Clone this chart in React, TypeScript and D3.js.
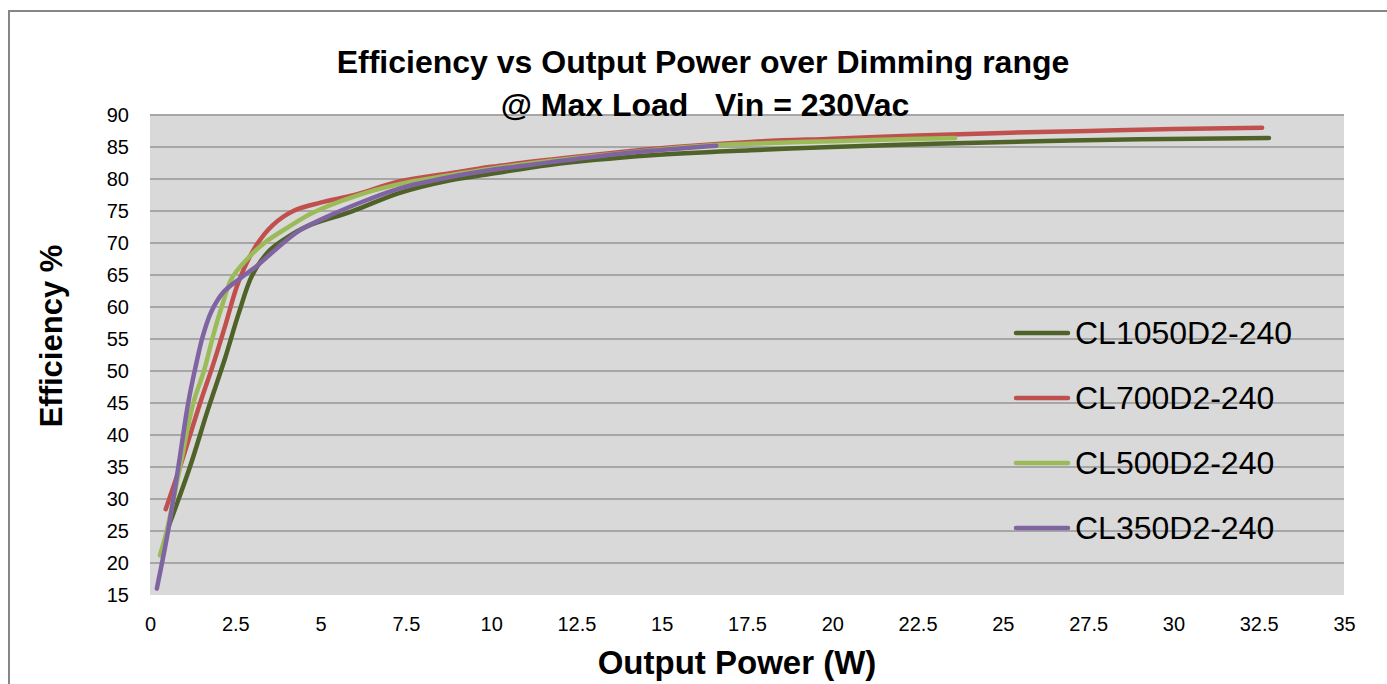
import React, { useEffect, useRef } from 'react';
import * as d3 from 'd3';

const seriesNames = ['CL1050D2-240', 'CL700D2-240', 'CL500D2-240', 'CL350D2-240'];
const seriesColors = ['#4F6228', '#C0504D', '#9BBB59', '#8064A2'];

const cl1050Power = [0.53, 1.17, 1.7, 2.2, 2.6, 3.0, 3.5, 4.0, 4.6, 5.9, 7.3, 8.8, 10, 11.7, 14.7, 17.6, 20, 23, 26, 29, 32.8];
const cl1050Eff = [25.5, 35, 44, 52, 59, 65, 68.8, 70.8, 72.6, 74.9, 77.8, 79.8, 80.8, 82.2, 83.7, 84.5, 85, 85.5, 85.9, 86.2, 86.4];

const cl700Power = [0.46, 0.88, 1.47, 1.85, 2.2, 2.6, 3.1, 3.6, 4.2, 5.0, 6.0, 7.3, 8.8, 10, 11.7, 14.7, 17.6, 20, 22.5, 25, 27.5, 30, 32.6];
const cl700Eff = [28.4, 35, 45, 51, 57, 64, 69.5, 72.8, 75, 76.3, 77.5, 79.6, 80.9, 81.9, 83.0, 84.7, 85.8, 86.3, 86.8, 87.2, 87.5, 87.8, 88.0];

const cl500Power = [0.29, 0.49, 0.88, 1.27, 1.58, 1.85, 2.1, 2.4, 2.85, 3.35, 4.0, 4.8, 6.0, 7.3, 8.8, 10, 11.7, 14.7, 16.6, 18, 20, 22, 23.6];
const cl500Eff = [21.2, 25, 35, 45, 50, 55.5, 60, 64.5, 67.5, 70, 72.3, 74.8, 77.3, 79.2, 80.6, 81.6, 82.8, 84.5, 85.3, 85.6, 85.9, 86.2, 86.4];

const cl350Power = [0.2, 0.53, 0.83, 1.12, 1.35, 1.55, 1.8, 2.15, 2.65, 3.15, 3.75, 4.4, 5.4, 6.4, 7.3, 8.8, 10, 11.7, 13.2, 14.7, 16.6];
const cl350Eff = [16, 25, 35, 45, 51, 55.5, 59.3, 62.3, 64.5, 66.5, 69.3, 72, 74.6, 76.8, 78.5, 80.3, 81.4, 82.6, 83.6, 84.4, 85.2];

const xTicks = [0, 2.5, 5, 7.5, 10, 12.5, 15, 17.5, 20, 22.5, 25, 27.5, 30, 32.5, 35];
const yTicks = [15, 20, 25, 30, 35, 40, 45, 50, 55, 60, 65, 70, 75, 80, 85, 90];

const titleLines = ['Efficiency vs Output Power over Dimming range', '@ Max Load   Vin = 230Vac'];
const xTitle = 'Output Power (W)';
const yTitle = 'Efficiency %';

const App = () => {
  const svgRef = useRef<SVGSVGElement>(null);

  useEffect(() => {
    const W = 1387;
    const H = 684;
    const svg = d3.select(svgRef.current);
    svg.selectAll('*').remove();
    svg.attr('width', W).attr('height', H);

    const font = 'Liberation Sans, Arial, sans-serif';
    const left = 150, right = 1344, top = 115, bottom = 595;

    // outer chart frame
    svg.append('rect')
      .attr('x', 9).attr('y', 11)
      .attr('width', W + 20).attr('height', H + 20)
      .attr('fill', '#fff').attr('stroke', '#868686').attr('stroke-width', 2);

    const x = d3.scaleLinear().domain([0, 35]).range([left, right]);
    const y = d3.scaleLinear().domain([15, 90]).range([bottom, top]);

    svg.append('rect')
      .attr('x', left).attr('y', top)
      .attr('width', right - left).attr('height', bottom - top)
      .attr('fill', '#D9D9D9');

    // gridlines
    svg.append('g')
      .selectAll('line')
      .data(yTicks.filter((t) => t > 15))
      .join('line')
      .attr('x1', left).attr('x2', right)
      .attr('y1', (d) => y(d)).attr('y2', (d) => y(d))
      .attr('stroke', '#A6A6A6').attr('stroke-width', 2.2);

    // y axis labels
    const yAxis = d3.axisLeft(y).tickValues(yTicks).tickSize(0).tickPadding(21);
    const yg = svg.append('g').attr('transform', `translate(${left},0)`).call(yAxis);
    yg.select('.domain').remove();
    yg.selectAll('text').attr('font-family', font).attr('font-size', 20).attr('fill', '#000');

    // x axis labels
    const xAxis = d3.axisBottom(x).tickValues(xTicks).tickSize(0).tickPadding(22)
      .tickFormat((d) => String(d));
    const xg = svg.append('g').attr('transform', `translate(0,${bottom})`).call(xAxis);
    xg.select('.domain').remove();
    xg.selectAll('text').attr('font-family', font).attr('font-size', 20).attr('fill', '#000');

    const series = [
      { name: seriesNames[0], color: seriesColors[0], px: cl1050Power, py: cl1050Eff },
      { name: seriesNames[1], color: seriesColors[1], px: cl700Power, py: cl700Eff },
      { name: seriesNames[2], color: seriesColors[2], px: cl500Power, py: cl500Eff },
      { name: seriesNames[3], color: seriesColors[3], px: cl350Power, py: cl350Eff },
    ];

    const line = d3.line<[number, number]>()
      .x((d) => x(d[0]))
      .y((d) => y(d[1]))
      .curve(d3.curveCatmullRom.alpha(0.5));

    series.forEach((s) => {
      const pts = s.px.map((p, i) => [p, s.py[i]] as [number, number]);
      svg.append('path')
        .attr('d', line(pts))
        .attr('fill', 'none')
        .attr('stroke', s.color)
        .attr('stroke-width', 4.5)
        .attr('stroke-linecap', 'round')
        .attr('stroke-linejoin', 'round');
    });

    // legend
    const lg = svg.append('g');
    series.forEach((s, i) => {
      const cy = 333 + i * 65;
      lg.append('line')
        .attr('x1', 1016).attr('x2', 1068)
        .attr('y1', cy).attr('y2', cy)
        .attr('stroke', s.color).attr('stroke-width', 4.5).attr('stroke-linecap', 'round');
      lg.append('text')
        .attr('x', 1075).attr('y', cy + 11)
        .attr('font-family', font).attr('font-size', 32)
        .attr('fill', '#000')
        .text(s.name);
    });

    // titles
    svg.append('text')
      .attr('x', 703).attr('y', 73)
      .attr('text-anchor', 'middle')
      .attr('font-family', font).attr('font-weight', 'bold').attr('font-size', 32)
      .text(titleLines[0]);
    svg.append('text')
      .attr('x', 705).attr('y', 116)
      .attr('text-anchor', 'middle')
      .attr('font-family', font).attr('font-weight', 'bold').attr('font-size', 32)
      .style('white-space', 'pre')
      .text(titleLines[1]);

    svg.append('text')
      .attr('x', 737).attr('y', 674)
      .attr('text-anchor', 'middle')
      .attr('font-family', font).attr('font-weight', 'bold').attr('font-size', 33)
      .text(xTitle);

    svg.append('text')
      .attr('transform', 'translate(62,336) rotate(-90)')
      .attr('text-anchor', 'middle')
      .attr('font-family', font).attr('font-weight', 'bold').attr('font-size', 31)
      .text(yTitle);
  }, []);

  return (
    <svg ref={svgRef} style={{ position: 'absolute', left: 0, top: 0 }}></svg>
  );
};

export default App;
